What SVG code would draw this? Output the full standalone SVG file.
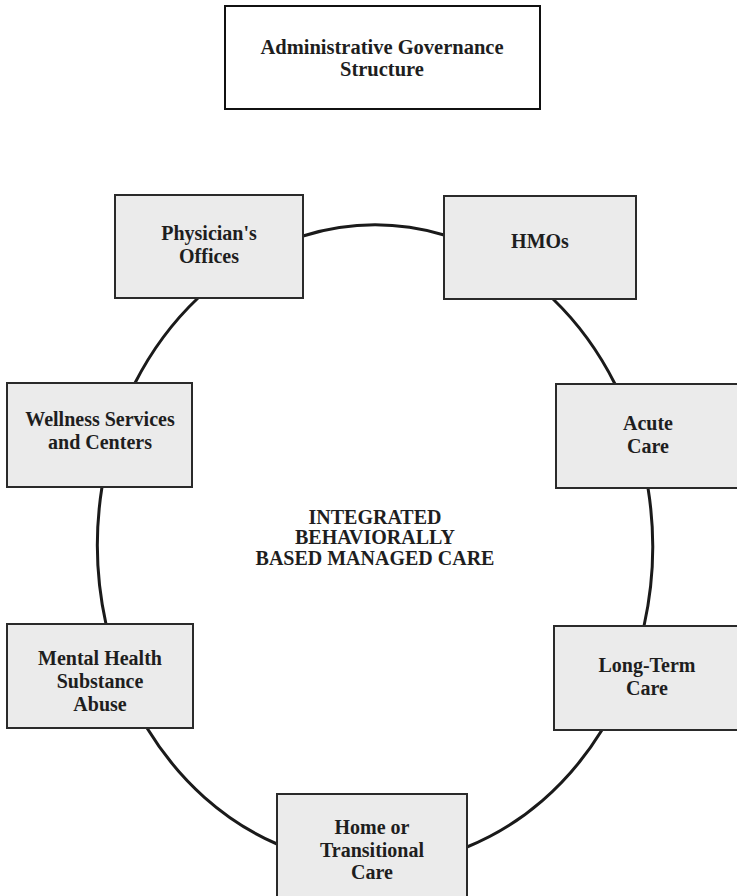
<svg xmlns="http://www.w3.org/2000/svg" width="737" height="896" viewBox="0 0 737 896">
<style>
.node rect{fill:#ebebeb;stroke:#2a2a2a;stroke-width:2}
.top rect{fill:#ffffff;stroke:#111;stroke-width:2}
text{font-family:"Liberation Serif","Times New Roman",serif;font-weight:bold;font-size:20px;fill:#1e1e1e;text-anchor:middle}
.conn path{fill:none;stroke:#1a1a1a;stroke-width:3}
</style>
<rect x="0" y="0" width="737" height="896" fill="#ffffff"/>
<g id="connectors" class="conn">
<path d="M303 236 A278 320 0 0 1 444 235"/>
<path d="M553 299 A278 320 0 0 1 615 384"/>
<path d="M648 488 A278 320 0 0 1 644 626"/>
<path d="M602 730 A278 320 0 0 1 467 847"/>
<path d="M277 844 A278 320 0 0 1 147 728"/>
<path d="M106 624 A278 320 0 0 1 102 487"/>
<path d="M135 383 A278 320 0 0 1 198 298"/>
</g>
<g id="governance" class="top">
<rect x="225" y="6" width="315" height="103"/>
<text x="382" y="54" style="font-size:20.5px">Administrative Governance</text>
<text x="382" y="76" style="font-size:20.5px">Structure</text>
</g>
<g id="center-label" style="font-size:20.5px">
<text x="375" y="524">INTEGRATED</text>
<text x="375" y="544">BEHAVIORALLY</text>
<text x="375" y="565">BASED MANAGED CARE</text>
</g>
<g id="physicians" class="node">
<rect x="115" y="195" width="188" height="103"/>
<text x="209" y="240">Physician's</text>
<text x="209" y="263">Offices</text>
</g>
<g id="hmos" class="node">
<rect x="444" y="196" width="192" height="103"/>
<text x="540" y="248">HMOs</text>
</g>
<g id="wellness" class="node">
<rect x="7" y="383" width="185" height="104"/>
<text x="100" y="426">Wellness Services</text>
<text x="100" y="449">and Centers</text>
</g>
<g id="acute" class="node">
<rect x="556" y="384" width="190" height="104"/>
<text x="648" y="430">Acute</text>
<text x="648" y="453">Care</text>
</g>
<g id="mental" class="node">
<rect x="7" y="624" width="186" height="104"/>
<text x="100" y="665">Mental Health</text>
<text x="100" y="688">Substance</text>
<text x="100" y="711">Abuse</text>
</g>
<g id="longterm" class="node">
<rect x="554" y="626" width="190" height="104"/>
<text x="647" y="672">Long-Term</text>
<text x="647" y="695">Care</text>
</g>
<g id="home" class="node">
<rect x="277" y="794" width="190" height="110"/>
<text x="372" y="834">Home or</text>
<text x="372" y="857">Transitional</text>
<text x="372" y="879">Care</text>
</g>
</svg>
